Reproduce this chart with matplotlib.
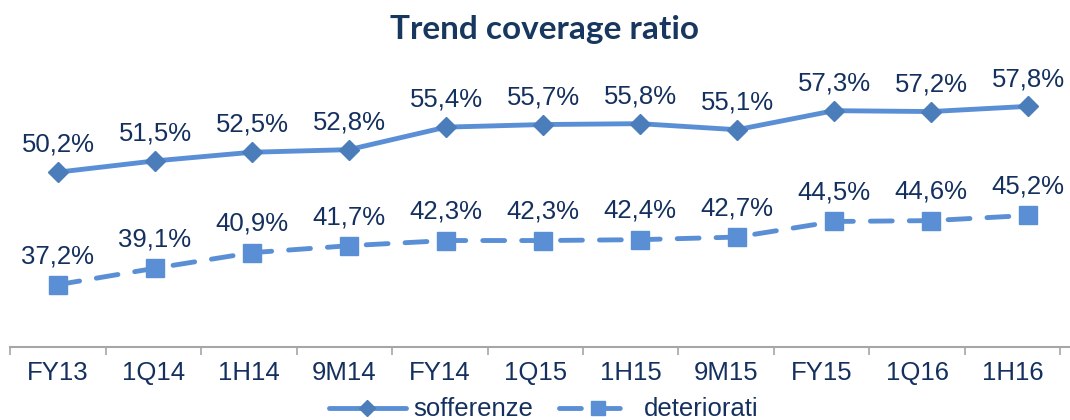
import numpy as np
import matplotlib
matplotlib.use("Agg")
import matplotlib.pyplot as plt

# data
periods = ["FY13", "1Q14", "1H14", "9M14", "FY14", "1Q15", "1H15",
           "9M15", "FY15", "1Q16", "1H16"]
sofferenze = [50.2, 51.5, 52.5, 52.8, 55.4, 55.7, 55.8, 55.1, 57.3, 57.2, 57.8]
deteriorati = [37.2, 39.1, 40.9, 41.7, 42.3, 42.3, 42.4, 42.7, 44.5, 44.6, 45.2]

line_col = "#5A8FD6"
diam_col = "#4A7DBA"
text_col = "#14305E"
fs = 18.5

plt.rcParams["font.family"] = ["Liberation Sans", "DejaVu Sans"]

fig = plt.figure(figsize=(10.7, 4.2), dpi=100)
ax = fig.add_axes([10 / 1070, 73 / 420, 1060 / 1070, 277 / 420])

x = np.arange(len(periods))
ax.plot(x, sofferenze, color=line_col, lw=3.5, marker="D", ms=10,
        mfc=diam_col, mec=diam_col, label="sofferenze", solid_capstyle="round")
ax.plot(x, deteriorati, color=line_col, lw=3.5, marker="s", ms=13,
        mfc=line_col, mec=line_col, dashes=(4.5, 3.5), dash_capstyle="round",
        label="deteriorati")

for xi, v in zip(x, sofferenze):
    ax.annotate(f"{v:.1f}%".replace(".", ","), (xi, v), xytext=(0, 11),
                textcoords="offset points", ha="center", va="bottom",
                fontsize=fs, color=text_col)
for xi, v in zip(x, deteriorati):
    ax.annotate(f"{v:.1f}%".replace(".", ","), (xi, v), xytext=(0, 12),
                textcoords="offset points", ha="center", va="bottom",
                fontsize=fs, color=text_col)

ax.set_xlim(-48 / 97, (1070 - 58) / 97)
ax.set_ylim(30, 62)

# category labels and boundary ticks (axis in the original is slightly narrower than the data spacing)
k = 0.984
ax.set_xticks(x * k)
ax.set_xticklabels(periods, fontsize=fs, color=text_col)
ax.tick_params(axis="x", which="major", length=0, pad=10)
ax.set_xticks((np.arange(len(periods) + 1) - 0.5) * k, minor=True)
ax.tick_params(axis="x", which="minor", length=6, width=1.2, color="#A6A6A6")
ax.set_yticks([])
for s in ["top", "right", "left"]:
    ax.spines[s].set_visible(False)
ax.spines["bottom"].set_color("#A6A6A6")
ax.spines["bottom"].set_linewidth(1.5)

fig.text(0.509, 0.93, "Trend coverage ratio", ha="center", va="center",
         fontsize=24, fontweight="bold", color="#17375E", family="Lato")

leg = fig.legend(loc="center", bbox_to_anchor=(0.508, 0.025), ncol=2,
                 frameon=False, fontsize=fs, handlelength=3, markerscale=0.8,
                 handletextpad=0.3, columnspacing=1.0)
for t in leg.get_texts():
    t.set_color(text_col)

fig.savefig("out.png", dpi=100)
